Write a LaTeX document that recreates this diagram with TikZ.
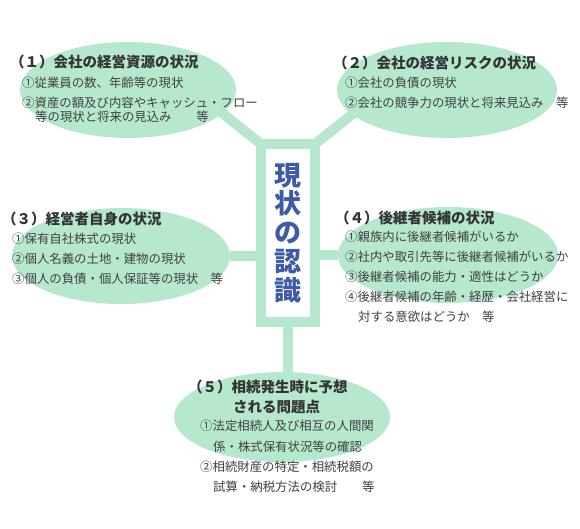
\documentclass[tikz,border=0pt]{standalone}
\usepackage{fontspec}
\newfontfamily\cjk{Noto Sans CJK JP}
\usetikzlibrary{shapes.geometric}
\definecolor{bubblegreen}{HTML}{B5E8CC}
\definecolor{titleblue}{HTML}{3D5BA9}
\definecolor{headgray}{HTML}{333333}
\definecolor{itemgray}{HTML}{404040}
\tikzset{
  bubble/.style={ellipse, fill=bubblegreen, inner sep=0pt},
  link/.style={draw=bubblegreen, line width=10pt},
  head/.style={anchor=west, inner sep=0pt, text=headgray,
    font=\cjk\bfseries\fontsize{14.5}{16}\selectfont},
  item/.style={anchor=west, inner sep=0pt, text=itemgray,
    font=\cjk\fontsize{12.4}{14}\selectfont}
}
\begin{document}
\begin{tikzpicture}[x=1pt, y=-1pt]
\useasboundingbox[fill=white] (0,0) rectangle (580,528);

% bubbles
\node[bubble, minimum width=216pt, minimum height=96pt] (e1) at (128,90) {};
\node[bubble, minimum width=220pt, minimum height=96pt] (e2) at (447,90) {};
\node[bubble, minimum width=218pt, minimum height=96pt] (e3) at (121,256) {};
\node[bubble, minimum width=220pt, minimum height=96pt] (e4) at (448,255) {};
\node[bubble, minimum width=216pt, minimum height=90pt] (e5) at (282,417) {};

% centre box
\node[draw=bubblegreen, line width=10pt, fill=white, outer sep=0pt, inner sep=0pt,
  minimum width=54pt, minimum height=178pt, align=center, text=titleblue,
  font=\cjk\bfseries\fontsize{27}{28.8}\selectfont] (box) at (288,233)
  {現\\状\\の\\認\\識};

\coordinate (j1) at (217,109);
\coordinate (j2) at (359,109);

\draw[link] (box.north west) -- (j1);
\draw[link] (box.north east) -- (j2);
\draw[link] (e3) -- (box.west |- e3.center);
\draw[link] (box.east |- e4.center) -- (e4);
\draw[link] (box.south) -- (box.south |- e5.north);

% (1)
\node[head] (h1) at (10,62) {（１）会社の経営資源の状況};
\node[item] (i1a) at (22,83) {①従業員の数、年齢等の現状};
\node[item] (i1b) at (22,103) {②資産の額及び内容やキャッシュ・フロー};
\node[item] (i1c) at (35,117) {等の現状と将来の見込み　　等};

% (2)
\node[head] (h2) at (333,63) {（２）会社の経営リスクの状況};
\node[item] (i2a) at (345,83) {①会社の負債の現状};
\node[item] (i2b) at (345,103) {②会社の競争力の現状と将来見込み　等};

% (3)
\node[head] (h3) at (2,219) {（３）経営者自身の状況};
\node[item] (i3a) at (12,239) {①保有自社株式の現状};
\node[item] (i3b) at (12,259) {②個人名義の土地・建物の現状};
\node[item] (i3c) at (12,279) {③個人の負債・個人保証等の現状　等};

% (4)
\node[head] (h4) at (335,218) {（４）後継者候補の状況};
\node[item] (i4a) at (345,237) {①親族内に後継者候補がいるか};
\node[item] (i4b) at (345,257) {②社内や取引先等に後継者候補がいるか};
\node[item] (i4c) at (345,277) {③後継者候補の能力・適性はどうか};
\node[item] (i4d) at (345,297) {④後継者候補の年齢・経歴・会社経営に};
\node[item] (i4e) at (358,317) {対する意欲はどうか　等};

% (5)
\node[head] (h5a) at (188,387) {（５）相続発生時に予想};
\node[head] (h5b) at (233,407) {される問題点};
\node[item] (i5a) at (200,426) {①法定相続人及び相互の人間関};
\node[item] (i5b) at (213,447) {係・株式保有状況等の確認};
\node[item] (i5c) at (200,467) {②相続財産の特定・相続税額の};
\node[item] (i5d) at (213,487) {試算・納税方法の検討　　等};
\end{tikzpicture}
\end{document}
